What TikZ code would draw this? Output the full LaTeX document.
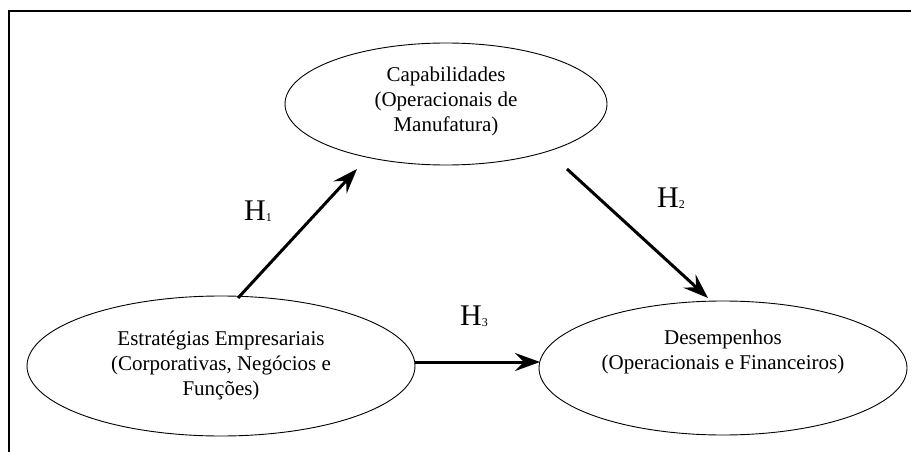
\documentclass[tikz,border=0pt]{standalone}
\usepackage{fontspec}
\setmainfont{Liberation Serif}
\usetikzlibrary{arrows.meta,shapes.geometric}
\begin{document}
\begin{tikzpicture}[x=1pt,y=-1pt,
  oval/.style={draw, ellipse, line width=0.9pt, inner sep=0pt},
  txt/.style={align=center, inner sep=0pt, font=\fontsize{21}{25}\selectfont},
  hyp/.style={-{Stealth[length=25pt,width=18pt,inset=9pt]}, line width=3pt},
  hlab/.style={anchor=base, inner sep=0pt}]
\useasboundingbox (0,0) rectangle (911,452);
\draw[line width=2.5pt] (9,453) -- (9,11) -- (912,11);

\node[oval, minimum width=322pt, minimum height=122pt] (cap) at (446,104) {};
\node[txt] (captxt) at (446,101) {Capabilidades\\(Operacionais de\\Manufatura)};

\node[oval, minimum width=388pt, minimum height=140pt] (est) at (221,366) {};
\node[txt] (esttxt) at (221,365) {Estratégias Empresariais\\(Corporativas, Negócios e\\Funções)};

\node[oval, minimum width=368pt, minimum height=134pt] (des) at (723,368) {};
\node[txt] (destxt) at (723,352) {Desempenhos\\(Operacionais e Financeiros)};

\coordinate (h1s) at (238,298);
\coordinate (h1e) at (357,169);
\coordinate (h2s) at (567,169);
\coordinate (h2e) at (708,298);
\coordinate (h3s) at (415,362);
\coordinate (h3e) at (540,362);
\draw[hyp] (h1s) -- (h1e);
\draw[hyp] (h2s) -- (h2e);
\draw[hyp] (h3s) -- (h3e);

\node[hlab] (l1) at (258,220) {\fontsize{30}{30}\selectfont H\raisebox{-1pt}{\fontsize{12}{12}\selectfont 1}};
\node[hlab] (l2) at (671,207) {\fontsize{30}{30}\selectfont H\raisebox{-1pt}{\fontsize{12}{12}\selectfont 2}};
\node[hlab] (l3) at (474,325) {\fontsize{30}{30}\selectfont H\raisebox{-1pt}{\fontsize{12}{12}\selectfont 3}};
\end{tikzpicture}
\end{document}
